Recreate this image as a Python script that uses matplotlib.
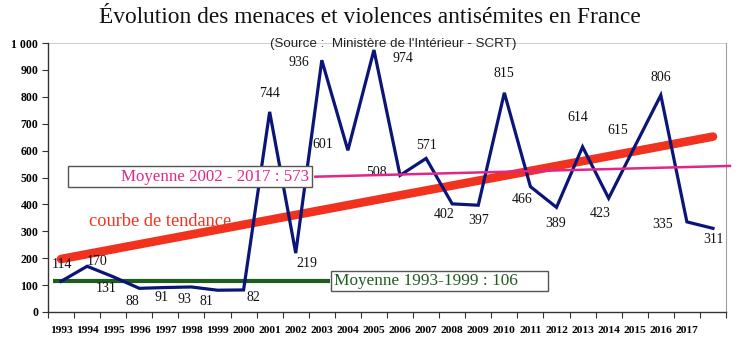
import matplotlib.pyplot as plt
import numpy as np
from matplotlib.patches import Rectangle

# valeurs
annees = [str(a) for a in range(1993, 2018)]
valeurs = [114, 170, 131, 88, 91, 93, 81, 82, 744, 219, 936, 601, 974, 508,
           571, 402, 397, 815, 466, 389, 614, 423, 615, 806, 335, 311]
# décalage des étiquettes (pixels) par rapport au point
dx = [1, 10, -7, -7, -4, -7, -11, 10, 0, 11, -23, -25, 29, -24,
      0, -8, 0, 0, -8, -1, -5, -8, -17, 0, -24, 0]
dy = [17, 5, -12, -13, -10, -13, -11, -8, 18, -10, -2, 6, -9, 3,
      13, -11, -15, 19, -13, -16, 29, -15, 16, 18, -3, -11]

# courbe de tendance et moyennes (extrémités)
tendance_x = [0, 25]
tendance_y = [197, 652]
moy_recente_x = [9.75, 25.65]
moy_recente_y = [503, 543]
moy_ancienne_x = [-0.3, 10.3]
moy_ancienne_y = [116, 116]

navy = "#0b1577"
rouge = "#f0321e"
rose = "#e0268a"
vert = "#1f5c1f"
serif = "Liberation Serif"

fig = plt.figure(figsize=(7.54, 3.44), dpi=100)
ax = fig.add_axes([48 / 754, 1 - 312 / 344, 678 / 754, 269 / 344])

x = np.arange(len(valeurs))
ax.plot(tendance_x, tendance_y, color=rouge, lw=6.2, solid_capstyle="round", zorder=2)
ax.plot(moy_ancienne_x, moy_ancienne_y, color=vert, lw=3, solid_capstyle="butt", zorder=2)
ax.plot(x, valeurs, color=navy, lw=2.3, solid_joinstyle="miter", zorder=3)
ax.plot(moy_recente_x, moy_recente_y, color=rose, lw=1.8, zorder=4, clip_on=False)

for i, v in enumerate(valeurs):
    ax.annotate(str(v), (i, v), xytext=(dx[i], dy[i]), textcoords="offset pixels",
                ha="center", va="center", fontsize=10, family=serif, color="#111111", zorder=3.5)

ax.set_xlim(-0.5, len(valeurs) - 0.5)
ax.set_ylim(0, 1000)
ax.set_yticks(range(0, 1001, 100))
ax.set_yticklabels([f"{v:,}".replace(",", " ") for v in range(0, 1001, 100)],
                   fontsize=8.5, fontweight="bold", family=serif)
ax.set_xticks(np.arange(-0.5, len(valeurs)), labels=[])
ax.set_xticks(np.arange(len(annees)), minor=True)
ax.set_xticklabels(annees, minor=True, fontsize=8.2, fontweight="bold", family=serif)
ax.tick_params(axis="x", which="major", length=4, direction="out", color="#333333")
ax.tick_params(axis="x", which="minor", length=0, pad=10)
ax.tick_params(axis="y", length=4, direction="out", color="#333333", pad=3)
ax.axhline(1000, color="#c8c8c8", lw=1.2, zorder=1)
ax.spines["top"].set_visible(False)
ax.spines["right"].set_color("#a0a0a0")
for s in ["left", "bottom"]:
    ax.spines[s].set_color("#333333")
    ax.spines[s].set_linewidth(1)

# encadrés
ax.add_patch(Rectangle((0.0295, 0.465), 0.3595, 0.078, transform=ax.transAxes,
                       facecolor="white", edgecolor="#555555", lw=1, zorder=5, clip_on=False))
ax.text(0.385, 0.503, "Moyenne 2002 - 2017 : 573", transform=ax.transAxes, ha="right",
        va="center", color=rose, fontsize=12.2, family=serif, zorder=6)
ax.add_patch(Rectangle((0.417, 0.078), 0.32, 0.074, transform=ax.transAxes,
                       facecolor="white", edgecolor="#555555", lw=1, zorder=5, clip_on=False))
ax.text(0.422, 0.114, "Moyenne 1993-1999 : 106", transform=ax.transAxes, ha="left",
        va="center", color=vert, fontsize=12.4, family=serif, zorder=6)
ax.text(0.0605, 0.337, "courbe de tendance", transform=ax.transAxes, ha="left",
        va="center", color=rouge, fontsize=13.2, family=serif, zorder=6)

fig.text(0.49, 0.948, "Évolution des menaces et violences antisémites en France",
         ha="center", va="center", fontsize=16.8, family=serif, color="#111111")
fig.text(0.521, 0.873, "(Source :  Ministère de l'Intérieur - SCRT)", ha="center",
         va="center", fontsize=9.6, family="Liberation Sans", color="#222222")

fig.savefig("out.png", dpi=100)
